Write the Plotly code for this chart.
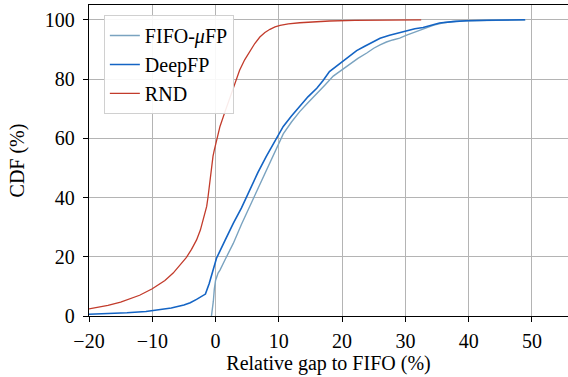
import plotly.graph_objects as go

# FIFO-muFP CDF
fifo_x = [-0.65, -0.5, -0.35, -0.2, 0.0, 0.4, 0.7, 1.5, 2.8, 4.1, 5.4, 6.7, 8.0, 9.4, 10.7, 12.0, 13.3, 14.6, 16.0, 17.3, 18.6, 19.9, 21.2, 22.5, 23.9, 25.0, 26.0, 27.0, 28.0, 29.1, 30.2, 31.5, 33.3, 34.5, 36.0, 38.0, 40.0, 43.0, 46.0, 49.0]
fifo_y = [0.0, 2.0, 5.0, 9.0, 12.0, 14.5, 15.5, 19.0, 24.5, 31.0, 37.0, 43.0, 49.3, 55.5, 61.5, 65.5, 69.0, 72.0, 75.0, 78.0, 81.0, 83.0, 85.0, 87.0, 88.8, 90.4, 91.5, 92.5, 93.2, 93.8, 94.8, 95.8, 97.2, 98.2, 99.0, 99.5, 99.7, 99.85, 99.95, 100.0]

# DeepFP CDF
deep_x = [-20.0, -17.0, -14.0, -11.0, -9.0, -7.0, -5.0, -4.0, -3.0, -2.2, -1.6, -1.0, -0.5, 0.15, 1.5, 2.8, 4.1, 5.4, 6.7, 8.0, 9.4, 10.7, 12.0, 13.3, 14.6, 16.0, 17.0, 18.0, 19.2, 20.2, 21.2, 22.3, 23.5, 24.7, 26.0, 27.5, 29.1, 30.2, 31.5, 32.8, 34.0, 35.4, 37.5, 39.6, 43.0, 46.0, 48.9]
deep_y = [0.6, 0.8, 1.1, 1.5, 2.0, 2.7, 3.7, 4.5, 5.6, 6.6, 7.4, 11.0, 15.0, 19.5, 25.5, 31.3, 36.5, 42.6, 48.5, 53.8, 59.0, 64.0, 67.5, 70.7, 74.0, 76.9, 79.5, 82.5, 84.5, 86.3, 88.0, 89.6, 91.0, 92.4, 93.8, 94.8, 95.7, 96.4, 97.0, 97.4, 98.2, 98.9, 99.4, 99.7, 99.85, 99.95, 100.0]

# RND CDF
rnd_x = [-20.0, -17.0, -15.0, -12.0, -10.0, -8.0, -6.7, -5.5, -4.6, -3.8, -3.0, -2.4, -2.0, -1.7, -1.4, -1.2, -1.0, -0.8, -0.6, -0.4, -0.2, 0.0, 0.7, 1.5, 2.3, 3.0, 3.8, 4.6, 5.4, 6.2, 7.0, 7.8, 8.6, 9.4, 10.2, 11.5, 13.3, 15.0, 18.0, 22.0, 27.0, 32.5]
rnd_y = [2.4, 3.6, 4.7, 7.0, 9.2, 12.0, 14.5, 17.5, 19.8, 22.5, 25.7, 29.0, 32.4, 35.0, 37.0, 40.0, 44.0, 48.0, 51.5, 54.0, 56.0, 58.0, 64.0, 69.0, 74.0, 78.5, 83.0, 86.5, 89.5, 92.0, 94.2, 95.7, 96.8, 97.6, 98.1, 98.6, 99.0, 99.3, 99.6, 99.8, 99.9, 100.0]

FONT = "Liberation Serif"
FS = 20

fig = go.Figure()
fig.add_trace(go.Scatter(x=fifo_x, y=fifo_y, mode="lines", name="FIFO-<i>μ</i>FP",
                         line=dict(color="#7aa3c0", width=1.4)))
fig.add_trace(go.Scatter(x=deep_x, y=deep_y, mode="lines", name="DeepFP",
                         line=dict(color="#1464c4", width=1.6)))
fig.add_trace(go.Scatter(x=rnd_x, y=rnd_y, mode="lines", name="RND",
                         line=dict(color="#c23b2b", width=1.3)))

fig.update_layout(
    width=568, height=377,
    margin=dict(l=89, r=0, t=5, b=61, autoexpand=False),
    plot_bgcolor="white", paper_bgcolor="white",
    font=dict(family=FONT, size=FS, color="black"),
    showlegend=True,
    legend=dict(x=0.031, y=0.968, xanchor="left", yanchor="top",
                bgcolor="rgba(255,255,255,0.9)", bordercolor="#d0d0d0", borderwidth=1,
                font=dict(family=FONT, size=FS), tracegroupgap=0, itemwidth=30),
    xaxis=dict(range=[-20, 55.7], tickvals=[-20, -10, 0, 10, 20, 30, 40, 50],
               showgrid=True, gridcolor="#b4b4b4", gridwidth=1,
               showline=True, linecolor="black", linewidth=1.3, mirror=True,
               ticks="outside", ticklen=5, tickcolor="black", ticklabelstandoff=2,
               zeroline=False, automargin=False,
               title=dict(text="Relative gap to FIFO (%)", standoff=2,
                          font=dict(family=FONT, size=FS))),
    yaxis=dict(range=[0, 105], tickvals=[0, 20, 40, 60, 80, 100],
               showgrid=True, gridcolor="#b4b4b4", gridwidth=1,
               showline=True, linecolor="black", linewidth=1.3,
               ticks="outside", ticklen=5, tickcolor="black", ticklabelstandoff=4,
               zeroline=False, automargin=False,
               title=dict(text="CDF (%)", standoff=14,
                          font=dict(family=FONT, size=FS))),
)

fig.write_html("out.html", config={"displayModeBar": False},
               post_script="document.body.style.margin='0';document.body.style.padding='0';")
